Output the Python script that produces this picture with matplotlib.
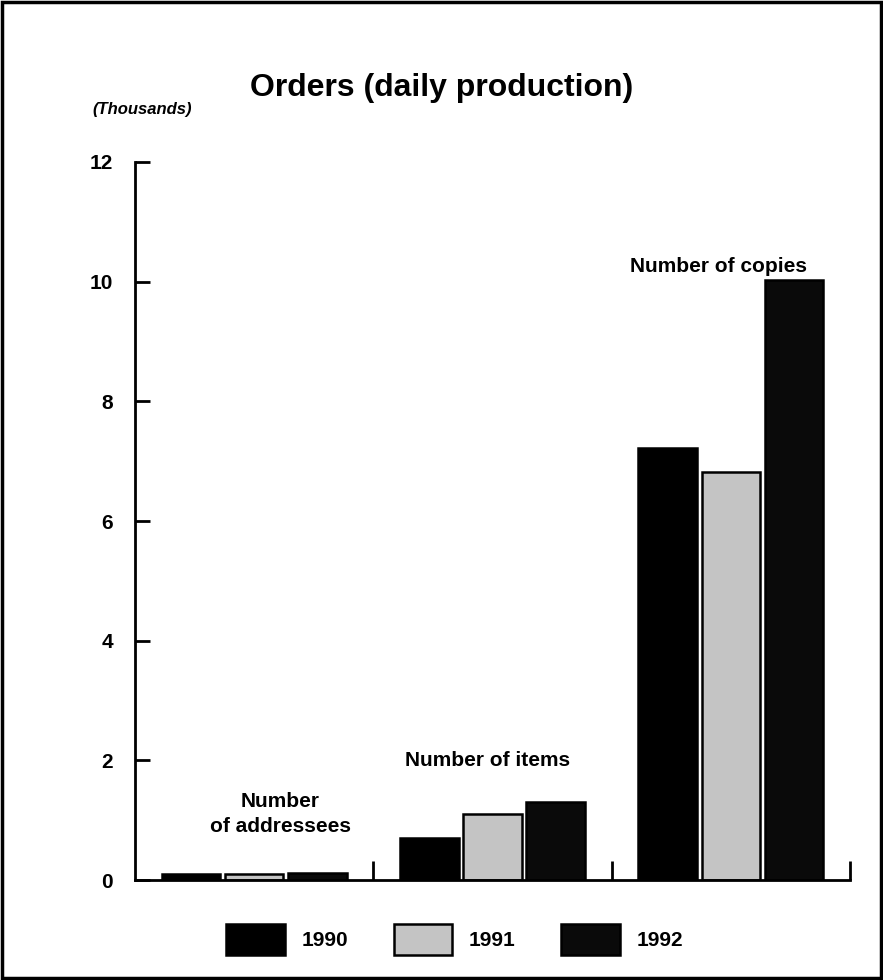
import matplotlib
matplotlib.use('Agg')
import numpy as np
import matplotlib.pyplot as plt
from matplotlib.patches import Rectangle

# Data (thousands)
years = ['1990', '1991', '1992']
categories = ['Number\nof addressees', 'Number of items', 'Number of copies']
values_1990 = [0.10, 0.70, 7.22]
values_1991 = [0.10, 1.10, 6.82]
values_1992 = [0.12, 1.30, 10.03]
y_ticks = [0, 2, 4, 6, 8, 10, 12]

plt.rcParams['font.family'] = ['Liberation Sans', 'DejaVu Sans']

fig = plt.figure(figsize=(8.83, 9.80), dpi=100)
fig.patches.append(Rectangle((0.002, 0.002), 0.996, 0.996, transform=fig.transFigure,
                             fill=False, edgecolor='black', linewidth=2.5))

ax = fig.add_axes([0.1529, 0.102, 0.8097, 0.7327])

colors = ['black', '#c4c4c4', '#0a0a0a']
offsets = [-0.265, 0.0, 0.265]
x = np.arange(len(categories)) + 0.5
bars = []
for vals, off, c, yr in zip([values_1990, values_1991, values_1992], offsets, colors, years):
    b = ax.bar(x + off, vals, width=0.245, color=c, edgecolor='black', linewidth=1.8, label=yr)
    bars.append(b)

# category labels (placement)
label_x = [0.61, 1.48, 2.45]
label_y = [1.1, 2.0, 10.25]
for lx, lab, ly in zip(label_x, categories, label_y):
    ax.text(lx, ly, lab, ha='center', va='center', fontsize=15, fontweight='bold',
            linespacing=1.4)

ax.set_xlim(0, 3)
ax.set_ylim(0, 12)
ax.spines['top'].set_visible(False)
ax.spines['right'].set_visible(False)
ax.spines['left'].set_linewidth(2)
ax.spines['bottom'].set_linewidth(2)

ax.set_yticks(y_ticks)
ax.set_yticklabels([str(t) for t in y_ticks], fontsize=15, fontweight='bold')
ax.tick_params(axis='y', direction='in', length=11, width=2, pad=16)
ax.set_xticks([1, 2, 3])
ax.set_xticklabels([])
ax.tick_params(axis='x', direction='in', length=14, width=2)

fig.text(0.105, 0.888, '(Thousands)', fontsize=12, fontstyle='italic',
         fontweight='bold', ha='left', va='center')

fig.text(0.5, 0.910, 'Orders (daily production)', ha='center', va='center',
         fontsize=23, fontweight='bold')

fig.legend(handles=bars, labels=years, loc='center', bbox_to_anchor=(0.515, 0.041),
           ncol=3, frameon=False, prop={'weight': 'bold', 'size': 15},
           handlelength=2.8, handleheight=1.9, columnspacing=2.2, handletextpad=0.8)

fig.savefig('out.png', dpi=100)
